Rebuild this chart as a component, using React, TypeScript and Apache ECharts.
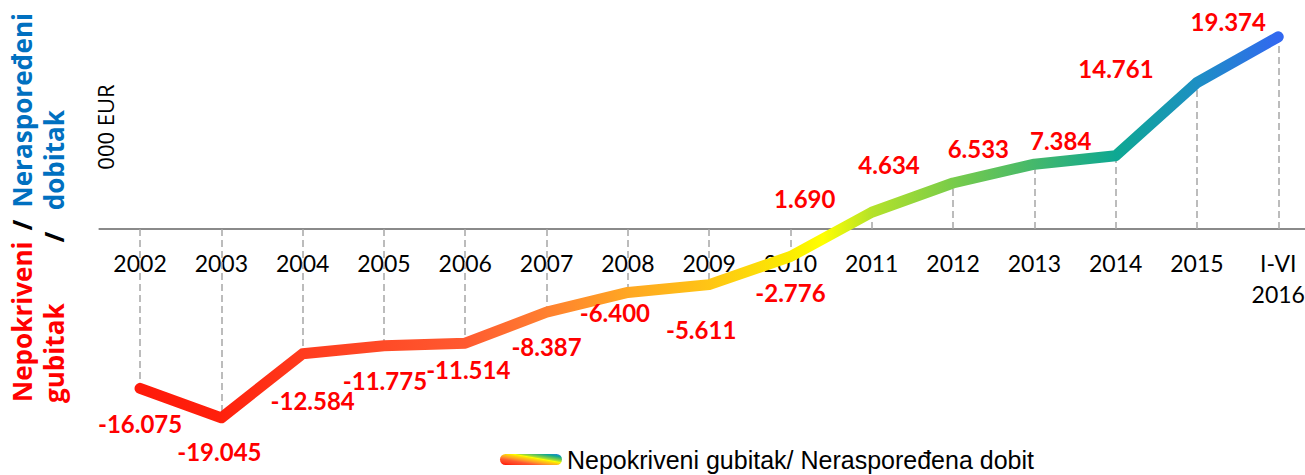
import React, { useEffect, useRef } from "react";
import * as echarts from "echarts";

const categories = [
  "2002", "2003", "2004", "2005", "2006", "2007", "2008", "2009",
  "2010", "2011", "2012", "2013", "2014", "2015", "I-VI\n2016",
];
const values = [
  -16.075, -19.045, -12.584, -11.775, -11.514, -8.387, -6.4, -5.611,
  -2.776, 1.69, 4.634, 6.533, 7.384, 14.761, 19.374,
];
const seriesName = "Nepokriveni gubitak/ Neraspoređena dobit";
const unitLabel = "000 EUR";
const titleLoss = ["Nepokriveni", "gubitak"];
const titleProfit = ["Neraspoređeni", "dobitak"];

// label offsets (styling only) relative to each point
const labelOffsets = [
  [0, 35], [-2, 34], [10, 47], [1, 35], [3, 26], [0, 34], [-13, 20], [-8, 45],
  [0, 36], [-67, -14], [-64, -19], [-56, -16], [-55, -15], [-81, -14], [-50, -15],
];

const stops = [
  { offset: 0, color: "#ff1a0a" },
  { offset: 0.07, color: "#ff200c" },
  { offset: 0.143, color: "#ff3c1e" },
  { offset: 0.286, color: "#ff5a30" },
  { offset: 0.357, color: "#ff8030" },
  { offset: 0.429, color: "#ffa722" },
  { offset: 0.5, color: "#ffc515" },
  { offset: 0.571, color: "#fbec00" },
  { offset: 0.6, color: "#ffff00" },
  { offset: 0.643, color: "#b4e22a" },
  { offset: 0.714, color: "#78cc4a" },
  { offset: 0.786, color: "#44b86c" },
  { offset: 0.857, color: "#0ea892" },
  { offset: 0.929, color: "#1d8fc4" },
  { offset: 1, color: "#3268f0" },
];

const RED = "#ff0000";
const BLUE = "#0070c0";

const Y_MIN = -20;
const Y_MAX = 22;
const GRID_TOP = 10.8;
const GRID_H = 416.5;

function fitTitleSize(): number {
  const base = 27;
  const targets = [159, 100, 194, 102];
  const words = [titleLoss[0], titleLoss[1], titleProfit[0], titleProfit[1]];
  try {
    const ctx = document.createElement("canvas").getContext("2d");
    if (!ctx) return base;
    ctx.font = `bold ${base}px 'Open Sans'`;
    let measured = 0;
    words.forEach((w) => (measured += ctx.measureText(w).width));
    const total = targets.reduce((a, b) => a + b, 0);
    const s = (base * total) / measured;
    return Math.max(22, Math.min(32, s));
  } catch (e) {
    return base;
  }
}

export default function App() {
  const ref = useRef<HTMLDivElement>(null);
  useEffect(() => {
    if (!ref.current) return;
    const chart = echarts.init(ref.current, undefined, { renderer: "svg" });
    const lineGrad = new echarts.graphic.LinearGradient(0, 0, 1, 0, stops);
    const legendGrad = new echarts.graphic.LinearGradient(0, 1, 1, 0, stops);
    const ts = fitTitleSize();
    const titleFont = `bold ${ts.toFixed(2)}px 'Open Sans'`;
    // distance from the grid bottom up to the zero line
    const zeroOffset = -((0 - Y_MIN) / (Y_MAX - Y_MIN)) * GRID_H;
    const rot = Math.PI / 2;
    const option: any = {
      animation: false,
      grid: {
        left: 99.4,
        top: GRID_TOP,
        width: 1219.5,
        height: GRID_H,
        containLabel: false,
        outerBoundsMode: "none",
      },
      xAxis: {
        type: "category",
        data: categories,
        boundaryGap: true,
        position: "bottom",
        offset: zeroOffset,
        axisLine: { show: true, onZero: false, lineStyle: { color: "#8a8a8a", width: 2 } },
        axisTick: { show: false },
        splitLine: { show: false },
        axisLabel: {
          color: "#000",
          fontFamily: "Lato",
          fontSize: 23,
          lineHeight: 31,
          margin: 19,
          interval: 0,
        },
      },
      yAxis: {
        type: "value",
        min: Y_MIN,
        max: Y_MAX,
        show: false,
        splitLine: { show: false },
      },
      legend: {
        left: 500,
        top: 447,
        padding: 0,
        itemWidth: 62,
        itemHeight: 11,
        textStyle: { fontFamily: "Liberation Sans", fontSize: 25, color: "#000" },
        data: [
          {
            name: seriesName,
            icon: "path://M5.5,0 L56.5,0 A5.5,5.5 0 0 1 56.5,11 L5.5,11 A5.5,5.5 0 0 1 5.5,0 Z",
            itemStyle: { color: legendGrad },
          },
        ],
      },
      graphic: [
        {
          type: "text", x: 22, y: 402, rotation: rot, z: 10,
          style: { text: titleLoss[0], fill: RED, font: titleFont, align: "left", verticalAlign: "middle" },
        },
        {
          type: "text", x: 22, y: 225, rotation: rot, z: 10,
          style: { text: "/", fill: "#000", font: titleFont, align: "center", verticalAlign: "middle" },
        },
        {
          type: "text", x: 22, y: 13, rotation: rot, z: 10,
          style: { text: titleProfit[0], fill: BLUE, font: titleFont, align: "right", verticalAlign: "middle" },
        },
        {
          type: "text", x: 54, y: 403, rotation: rot, z: 10,
          style: { text: titleLoss[1], fill: RED, font: titleFont, align: "left", verticalAlign: "middle" },
        },
        {
          type: "text", x: 54, y: 237, rotation: rot, z: 10,
          style: { text: "/", fill: "#000", font: titleFont, align: "center", verticalAlign: "middle" },
        },
        {
          type: "text", x: 54, y: 110, rotation: rot, z: 10,
          style: { text: titleProfit[1], fill: BLUE, font: titleFont, align: "right", verticalAlign: "middle" },
        },
        {
          type: "text", x: 105, y: 127, rotation: rot, z: 10,
          style: { text: unitLabel, fill: "#000", font: "22px 'Open Sans'", align: "center", verticalAlign: "middle" },
        },
      ],
      series: [
        {
          name: seriesName,
          type: "line",
          z: 3,
          data: values.map((v, i) => ({
            value: v,
            label: { offset: labelOffsets[i] },
          })),
          symbol: "circle",
          symbolSize: 2,
          showSymbol: true,
          itemStyle: { color: "rgba(0,0,0,0)" },
          lineStyle: { color: lineGrad, width: 11, cap: "round", join: "round" },
          label: {
            show: true,
            position: "inside",
            color: RED,
            fontFamily: "Lato",
            fontWeight: "bold",
            fontSize: 24,
            formatter: (p: any) => Number(p.value).toFixed(3),
          },
          emphasis: { disabled: true },
          markLine: {
            z: 1,
            silent: true,
            symbol: ["none", "none"],
            label: { show: false },
            lineStyle: { type: [7, 4], color: "#a6a6a6", width: 1.5 },
            emphasis: { disabled: true },
            data: values.map((v, i) => [{ coord: [i, 0] }, { coord: [i, v] }]),
          },
        },
      ],
    };
    chart.setOption(option);
    return () => chart.dispose();
  }, []);
  return (
    <div
      ref={ref}
      style={{ position: "absolute", left: 0, top: 0, width: 1305, height: 475 }}
    />
  );
}
